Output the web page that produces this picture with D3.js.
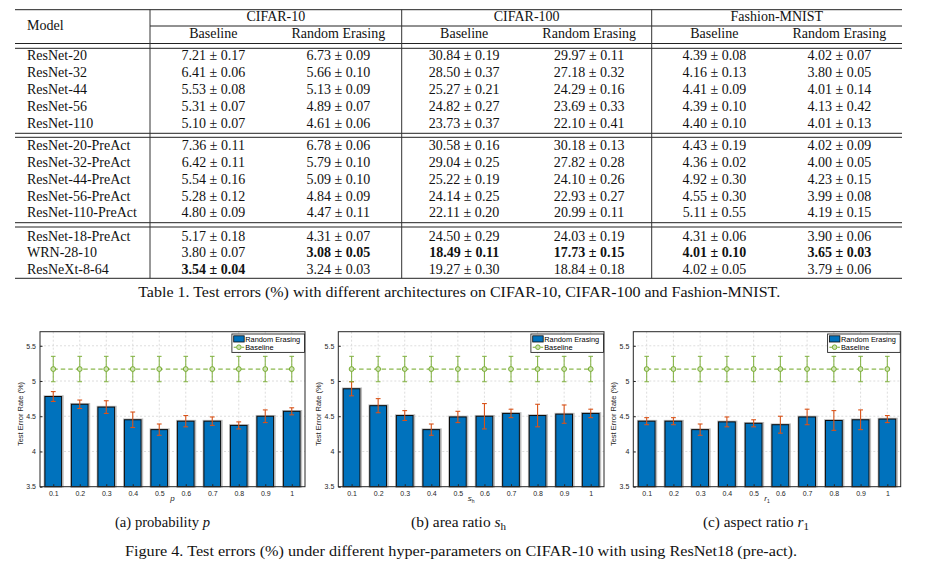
<!DOCTYPE html>
<html><head><meta charset="utf-8">
<script src="https://cdn.jsdelivr.net/npm/d3@7"></script>
<style>body{margin:0;background:#fff}svg{display:block}</style>
</head><body><svg id="c" width="932" height="566"></svg>
<script>
// ---------- DATA: table ----------
const models = ["ResNet-20","ResNet-32","ResNet-44","ResNet-56","ResNet-110",
  "ResNet-20-PreAct","ResNet-32-PreAct","ResNet-44-PreAct","ResNet-56-PreAct","ResNet-110-PreAct",
  "ResNet-18-PreAct","WRN-28-10","ResNeXt-8-64"];
const datasets = ["CIFAR-10","CIFAR-100","Fashion-MNIST"];
const subHeaders = ["Baseline","Random Erasing"];
const cifar10Base = [[7.21,0.17],[6.41,0.06],[5.53,0.08],[5.31,0.07],[5.10,0.07],[7.36,0.11],[6.42,0.11],[5.54,0.16],[5.28,0.12],[4.80,0.09],[5.17,0.18],[3.80,0.07],[3.54,0.04]];
const cifar10RE = [[6.73,0.09],[5.66,0.10],[5.13,0.09],[4.89,0.07],[4.61,0.06],[6.78,0.06],[5.79,0.10],[5.09,0.10],[4.84,0.09],[4.47,0.11],[4.31,0.07],[3.08,0.05],[3.24,0.03]];
const cifar100Base = [[30.84,0.19],[28.50,0.37],[25.27,0.21],[24.82,0.27],[23.73,0.37],[30.58,0.16],[29.04,0.25],[25.22,0.19],[24.14,0.25],[22.11,0.20],[24.50,0.29],[18.49,0.11],[19.27,0.30]];
const cifar100RE = [[29.97,0.11],[27.18,0.32],[24.29,0.16],[23.69,0.33],[22.10,0.41],[30.18,0.13],[27.82,0.28],[24.10,0.26],[22.93,0.27],[20.99,0.11],[24.03,0.19],[17.73,0.15],[18.84,0.18]];
const fashionBase = [[4.39,0.08],[4.16,0.13],[4.41,0.09],[4.39,0.10],[4.40,0.10],[4.43,0.19],[4.36,0.02],[4.92,0.30],[4.55,0.30],[5.11,0.55],[4.31,0.06],[4.01,0.10],[4.02,0.05]];
const fashionRE = [[4.02,0.07],[3.80,0.05],[4.01,0.14],[4.13,0.42],[4.01,0.13],[4.02,0.09],[4.00,0.05],[4.23,0.15],[3.99,0.08],[4.19,0.15],[3.90,0.06],[3.65,0.03],[3.79,0.06]];
const boldCells = [[11,1],[11,2],[11,3],[11,4],[11,5],[12,0]];
const tableCaption = "Table 1. Test errors (%) with different architectures on CIFAR-10, CIFAR-100 and Fashion-MNIST.";

// ---------- DATA: figure ----------
const xTickLabels = ["0.1","0.2","0.3","0.4","0.5","0.6","0.7","0.8","0.9","1"];
const yTickValues = [3.5,4,4.5,5,5.5];
const reProb = [4.78,4.67,4.63,4.45,4.31,4.43,4.43,4.37,4.50,4.57];
const reProbErr = [0.07,0.06,0.09,0.11,0.08,0.08,0.06,0.05,0.09,0.05];
const reArea = [4.89,4.65,4.51,4.31,4.49,4.50,4.54,4.51,4.53,4.54];
const reAreaErr = [0.10,0.10,0.07,0.08,0.08,0.18,0.06,0.16,0.13,0.06];
const reAspect = [4.43,4.43,4.31,4.42,4.40,4.38,4.49,4.44,4.45,4.46];
const reAspectErr = [0.05,0.05,0.08,0.07,0.05,0.12,0.11,0.14,0.14,0.05];
const baselineVals = [5.17,5.17,5.17,5.17,5.17,5.17,5.17,5.17,5.17,5.17];
const baselineErr = [0.18,0.18,0.18,0.18,0.18,0.18,0.18,0.18,0.18,0.18];
const legendLabels = ["Random Erasing","Baseline"];
const yAxisLabel = "Test Error Rate (%)";
const figCaption = "Figure 4. Test errors (%) under different hyper-parameters on CIFAR-10 with using ResNet18 (pre-act).";

// ---------- DRAW ----------
const svg = d3.select("#c");
const serif = "'Liberation Serif','Times New Roman',Times,serif";
const sans = "'Liberation Sans',Arial,Helvetica,sans-serif";
const ink = "#111";

// ===== Table =====
const T = svg.append("g").attr("font-family", serif).attr("font-size", 14).attr("fill", ink);
const tL = 15, tR = 902, tTop = 9.7, tBot = 278.3;
const secEdges = [150, 401.7, 651.7, 902];
const hline = (y, x1, x2) => T.append("line").attr("x1", x1).attr("x2", x2).attr("y1", y).attr("y2", y)
  .attr("stroke", "#222").attr("stroke-width", 1);
hline(tTop, tL, tR);
hline(26, secEdges[0], tR);
hline(43.5, tL, tR); hline(48.3, tL, tR);
hline(133.3, tL, tR); hline(137.3, tL, tR);
hline(222.7, tL, tR); hline(227.0, tL, tR);
hline(tBot, tL, tR);
secEdges.slice(0, 3).forEach(x => T.append("line").attr("x1", x).attr("x2", x).attr("y1", tTop).attr("y2", tBot)
  .attr("stroke", "#333").attr("stroke-width", 1));

T.append("text").attr("x", 27).attr("y", 25 + 4.8).text("Model");
datasets.forEach((d, i) => {
  const cx = (secEdges[i] + secEdges[i + 1]) / 2;
  T.append("text").attr("x", cx).attr("y", 16 + 4.8).attr("text-anchor", "middle").text(d);
  subHeaders.forEach((s, j) => T.append("text").attr("x", cx + (j ? 62.5 : -62.5)).attr("y", 33.5 + 4.8)
    .attr("text-anchor", "middle").text(s));
});
const cols = [cifar10Base, cifar10RE, cifar100Base, cifar100RE, fashionBase, fashionRE];
const colX = [];
for (let i = 0; i < 3; i++) { const cx = (secEdges[i] + secEdges[i + 1]) / 2; colX.push(cx - 62.5, cx + 62.5); }
const groupStart = [55, 145, 235.7];
const rowY = r => r < 5 ? groupStart[0] + r * 17.1 : (r < 10 ? groupStart[1] + (r - 5) * 16.9 : groupStart[2] + (r - 10) * 16.7);
const isBold = (r, c) => boldCells.some(b => b[0] === r && b[1] === c);
models.forEach((m, r) => {
  T.append("text").attr("x", 27).attr("y", rowY(r) + 4.8).text(m);
  cols.forEach((col, c) => {
    T.append("text").attr("x", colX[c]).attr("y", rowY(r) + 4.8).attr("text-anchor", "middle")
      .attr("font-weight", isBold(r, c) ? "bold" : null)
      .text(col[r][0].toFixed(2) + " ± " + col[r][1].toFixed(2));
  });
});
T.append("text").attr("x", 459.2).attr("y", 297).attr("text-anchor", "middle").attr("font-size", 14.5)
  .attr("textLength", 642).attr("lengthAdjust", "spacingAndGlyphs").text(tableCaption);

// ===== Figure panels =====
const pTop = 331.7, pBot = 486.7;
const blue = "#0072BD", orange = "#D95319", green = "#77AC30";
const panels = [
  {left: 40, right: 305, vals: reProb, errs: reProbErr, xlab: ["p", null], cap: ["(a) probability ", "p", null], capX: 162.5, capW: 95},
  {left: 338.3, right: 604, vals: reArea, errs: reAreaErr, xlab: ["s", "h"], cap: ["(b) area ratio ", "s", "h"], capX: 458.5, capW: 95},
  {left: 633.3, right: 900.7, vals: reAspect, errs: reAspectErr, xlab: ["r", "1"], cap: ["(c) aspect ratio ", "r", "1"], capX: 756, capW: 106}
];

panels.forEach(P => {
  const g = svg.append("g").attr("font-family", sans);
  const x = d3.scaleLinear().domain([0.5, 10.5]).range([P.left, P.right]);
  const y = d3.scaleLinear().domain([3.5, 5.7]).range([pBot, pTop]);
  const idx = d3.range(1, 11);
  const step = x(2) - x(1);
  const bw = step * 0.63;

  // grid
  g.append("g").selectAll("line").data(idx).join("line")
    .attr("x1", d => x(d)).attr("x2", d => x(d)).attr("y1", pTop).attr("y2", pBot)
    .attr("stroke", "#d4d4d4").attr("stroke-width", 0.8).attr("stroke-dasharray", "2,2");
  g.append("g").selectAll("line").data(yTickValues.slice(1)).join("line")
    .attr("x1", P.left).attr("x2", P.right).attr("y1", d => y(d)).attr("y2", d => y(d))
    .attr("stroke", "#d4d4d4").attr("stroke-width", 0.8).attr("stroke-dasharray", "2,2");

  // bars (shadow + bar)
  g.append("g").selectAll("rect").data(P.vals).join("rect")
    .attr("x", (d, i) => x(i + 1) - bw / 2 - 0.5).attr("y", d => y(d) - 0.5)
    .attr("width", bw + 1.8).attr("height", d => pBot - y(d) + 0.5)
    .attr("fill", "none").attr("stroke", "#bdbdbd").attr("stroke-width", 1.6);
  g.append("g").selectAll("rect").data(P.vals).join("rect")
    .attr("x", (d, i) => x(i + 1) - bw / 2).attr("y", d => y(d))
    .attr("width", bw).attr("height", d => pBot - y(d))
    .attr("fill", blue).attr("stroke", "#0b0b0b").attr("stroke-width", 1);

  // error bars (random erasing)
  const eb = g.append("g").attr("stroke", orange).attr("stroke-width", 1.1);
  P.vals.forEach((v, i) => {
    const cx = x(i + 1), e = P.errs[i];
    eb.append("line").attr("x1", cx).attr("x2", cx).attr("y1", y(v - e)).attr("y2", y(v + e));
    eb.append("line").attr("x1", cx - 2.4).attr("x2", cx + 2.4).attr("y1", y(v - e)).attr("y2", y(v - e));
    eb.append("line").attr("x1", cx - 2.4).attr("x2", cx + 2.4).attr("y1", y(v + e)).attr("y2", y(v + e));
  });

  // baseline
  const line = d3.line().x((d, i) => x(i + 1)).y(d => y(d));
  g.append("path").attr("d", line(baselineVals)).attr("fill", "none").attr("stroke", green)
    .attr("stroke-width", 1.3).attr("stroke-dasharray", "4.5,3").attr("opacity", 0.85);
  const gb = g.append("g").attr("stroke", green).attr("stroke-width", 1.1).attr("opacity", 0.85);
  baselineVals.forEach((v, i) => {
    const cx = x(i + 1), e = baselineErr[i];
    gb.append("line").attr("x1", cx).attr("x2", cx).attr("y1", y(v - e)).attr("y2", y(v + e));
    gb.append("line").attr("x1", cx - 2.3).attr("x2", cx + 2.3).attr("y1", y(v - e)).attr("y2", y(v - e));
    gb.append("line").attr("x1", cx - 2.3).attr("x2", cx + 2.3).attr("y1", y(v + e)).attr("y2", y(v + e));
  });
  g.append("g").selectAll("circle").data(baselineVals).join("circle")
    .attr("cx", (d, i) => x(i + 1)).attr("cy", d => y(d)).attr("r", 2.4)
    .attr("fill", "#cfe3b4").attr("stroke", green).attr("stroke-width", 1);

  // axes
  const ax = d3.axisBottom(x).tickValues(idx).tickFormat(d => xTickLabels[d - 1]).tickSizeInner(-2.5).tickSizeOuter(0).tickPadding(4);
  const ay = d3.axisLeft(y).tickValues(yTickValues).tickFormat(d => d).tickSizeInner(-2.5).tickSizeOuter(0).tickPadding(4);
  const gx = g.append("g").attr("transform", `translate(0,${pBot})`).call(ax);
  const gy = g.append("g").attr("transform", `translate(${P.left},0)`).call(ay);
  [gx, gy].forEach(a => {
    a.select(".domain").remove();
    a.selectAll("line").attr("stroke", "#262626");
    a.selectAll("text").attr("font-family", sans).attr("font-size", 7).attr("fill", "#262626");
  });
  g.append("rect").attr("x", P.left).attr("y", pTop).attr("width", P.right - P.left).attr("height", pBot - pTop)
    .attr("fill", "none").attr("stroke", "#262626").attr("stroke-width", 1);

  // y label
  g.append("text").attr("transform", `translate(${P.left - 19.5},${414}) rotate(-90)`)
    .attr("text-anchor", "middle").attr("dominant-baseline", "central")
    .attr("font-size", 7.5).attr("fill", "#262626").text(yAxisLabel);

  // x label
  const xl = g.append("text").attr("x", (P.left + P.right) / 2 + 0).attr("y", 501)
    .attr("text-anchor", "middle").attr("font-size", 8).attr("fill", "#262626");
  xl.append("tspan").attr("font-style", "italic").text(P.xlab[0]);
  if (P.xlab[1]) xl.append("tspan").attr("font-size", 5).attr("dy", 1.5).text(P.xlab[1]);

  // legend
  const lw = 72.6, lh = 18.4, lx = P.right - lw - 0.5, ly = pTop + 2.3;
  const L = g.append("g");
  L.append("rect").attr("x", lx).attr("y", ly).attr("width", lw).attr("height", lh)
    .attr("fill", "#fff").attr("stroke", "#262626").attr("stroke-width", 0.9);
  L.append("rect").attr("x", lx + 1.8).attr("y", ly + 1.8).attr("width", 10.5).attr("height", 6.2)
    .attr("fill", blue).attr("stroke", "#0b0b0b").attr("stroke-width", 0.8);
  L.append("line").attr("x1", lx + 1.8).attr("x2", lx + 12.3).attr("y1", ly + 13.2).attr("y2", ly + 13.2)
    .attr("stroke", green).attr("stroke-width", 1.1).attr("stroke-dasharray", "2.5,1.5");
  L.append("circle").attr("cx", lx + 7).attr("cy", ly + 13.2).attr("r", 2.3)
    .attr("fill", "#cfe3b4").attr("stroke", green).attr("stroke-width", 1);
  legendLabels.forEach((t, i) => L.append("text").attr("x", lx + 13.3).attr("y", ly + 5 + i * 8.4)
    .attr("dominant-baseline", "central").attr("font-size", 7.4).attr("font-weight", 500).attr("fill", "#000").text(t));

  // subcaption
  const sc = svg.append("text").attr("x", P.capX).attr("y", 527).attr("text-anchor", "middle")
    .attr("font-family", serif).attr("font-size", 14).attr("fill", ink)
    .attr("textLength", P.capW).attr("lengthAdjust", "spacingAndGlyphs");
  sc.append("tspan").text(P.cap[0]);
  sc.append("tspan").attr("font-style", "italic").text(P.cap[1]);
  if (P.cap[2]) sc.append("tspan").attr("font-size", 10).attr("dy", 2.5).text(P.cap[2]);
});

svg.append("text").attr("x", 461).attr("y", 556).attr("text-anchor", "middle")
  .attr("font-family", serif).attr("font-size", 14.5).attr("fill", ink)
  .attr("textLength", 672).attr("lengthAdjust", "spacingAndGlyphs").text(figCaption);
</script></body></html>
